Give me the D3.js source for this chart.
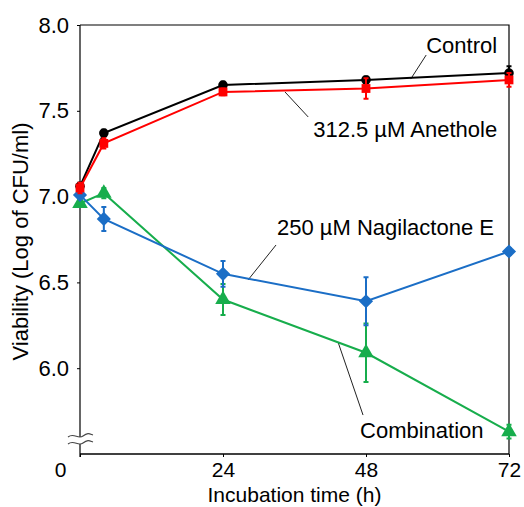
<!DOCTYPE html>
<html>
<head>
<meta charset="utf-8">
<script src="https://d3js.org/d3.v7.min.js"></script>
<style>
	body { margin: 0; background: #fff; }
	text { font-family: "Liberation Sans", Arial, sans-serif; }
</style>
</head>
<body>
<svg id="chart"></svg>
<script>
/*
 *  Viability time course, log CFU/ml
 */

const W = 524, H = 507, FONT_SIZE = 22, TICK_FONT = 21;
const margin = { left: 80, right: 15, top: 25, bottom: 53 };

// data
const times = [0, 4, 24, 48, 72];
const controlVals = [7.06, 7.37, 7.65, 7.68, 7.72];
const controlErr = [0.02, 0.02, 0.02, 0.02, 0.04];
const anetholeVals = [7.05, 7.31, 7.61, 7.63, 7.68];
const anetholeErr = [0.03, 0.03, 0.02, 0.06, 0.04];
const nagilactoneVals = [7.01, 6.87, 6.55, 6.39, 6.68];
const nagilactoneErr = [0.02, 0.07, 0.075, 0.14, 0.02];
const combinationVals = [6.96, 7.02, 6.40, 6.09, 5.63];
const combinationErr = [0.02, 0.03, 0.09, 0.17, 0.04];

const xTicks = [0, 24, 48, 72];
const yTicks = [6.0, 6.5, 7.0, 7.5, 8.0];

// drawn back to front
const series = [
	{ name: 'Combination', vals: combinationVals, err: combinationErr, color: '#17ad4c', sym: d3.symbolTriangle, size: 105, rot: 0 },
	{ name: '250 µM Nagilactone E', vals: nagilactoneVals, err: nagilactoneErr, color: '#1b6ec6', sym: d3.symbolSquare, size: 100, rot: 45 },
	{ name: 'Control', vals: controlVals, err: controlErr, color: '#000000', sym: d3.symbolCircle, size: 72, rot: 0 },
	{ name: '312.5 µM Anethole', vals: anetholeVals, err: anetholeErr, color: '#ff0000', sym: d3.symbolSquare, size: 78, rot: 0 },
];

// label leader lines: point on curve -> leader end, text offset from leader end
const notes = [
	{ text: 'Control', from: [55.5, 7.685], to: [58.1, 7.825], dx: 0, dy: -2 },
	{ text: '312.5 µM Anethole', from: [34.4, 7.61], to: [38.3, 7.464], dx: 5, dy: 20 },
	{ text: '250 µM Nagilactone E', from: [28.2, 6.514], to: [32.9, 6.718], dx: 1, dy: -10 },
	{ text: 'Combination', from: [43.3, 6.153], to: [47.5, 5.727], dx: -3, dy: 23 },
];

const svg = d3.select('svg#chart').attr('width', W).attr('height', H);

const x = d3.scaleLinear().domain([0, 72]).range([margin.left, W - margin.right]);
const y = d3.scaleLinear().domain([5.5, 8.0]).range([H - margin.bottom, margin.top]);

const x0 = x.range()[0], x1 = x.range()[1], y0 = y.range()[0], y1 = y.range()[1];

// frame (top & right)
svg.append('path')
	.attr('d', `M${x0},${y1}H${x1}V${y0}`)
	.attr('fill', 'none').attr('stroke', '#000').attr('stroke-width', 1.2);

// x axis
const xAxis = svg.append('g')
	.attr('transform', `translate(0,${y0})`)
	.call(d3.axisBottom(x).tickValues(xTicks).tickFormat(d3.format('d')).tickSize(3).tickPadding(5));
xAxis.select('.domain').attr('stroke-width', 1.4).attr('d', `M${x0},0H${x1}`);
xAxis.selectAll('text').attr('font-size', TICK_FONT + 'px').attr('fill', '#000')
	.attr('dx', d => d === 0 ? -20 : 0);

// y axis (with break near the bottom)
const breakY = y0 - 14;
const yAxis = svg.append('g')
	.attr('transform', `translate(${x0},0)`)
	.call(d3.axisLeft(y).tickValues(yTicks).tickFormat(d3.format('.1f')).tickSize(3).tickPadding(8));
yAxis.select('.domain').attr('stroke-width', 1.2)
	.attr('d', `M0,${y1}V${breakY - 3}M0,${breakY + 4}V${y0 + 3}`);
yAxis.selectAll('text').attr('font-size', FONT_SIZE + 'px').attr('fill', '#000');

// break squiggles
[breakY - 4, breakY + 3].forEach(by => {
	svg.append('path')
		.attr('d', `M${x0 - 12},${by + 1}C${x0 - 6},${by - 4} ${x0 - 2},${by + 4} ${x0 + 3},${by}S${x0 + 10},${by - 2} ${x0 + 13},${by - 1}`)
		.attr('fill', 'none').attr('stroke', '#444').attr('stroke-width', 1.1);
});

// axis titles
svg.append('text')
	.attr('x', (x0 + x1) / 2).attr('y', 502)
	.attr('text-anchor', 'middle').attr('font-size', TICK_FONT + 'px')
	.text('Incubation time (h)');
svg.append('text')
	.attr('transform', `translate(28,${(y0 + y1) / 2 + 2}) rotate(-90)`)
	.attr('text-anchor', 'middle').attr('font-size', FONT_SIZE + 'px')
	.text('Viability (Log of CFU/ml)');

// leader lines and labels
const noteLayer = svg.append('g');
notes.forEach(n => {
	noteLayer.append('line')
		.attr('x1', x(n.from[0])).attr('y1', y(n.from[1]))
		.attr('x2', x(n.to[0])).attr('y2', y(n.to[1]))
		.attr('stroke', '#222').attr('stroke-width', 1);
	noteLayer.append('text')
		.attr('x', x(n.to[0]) + n.dx).attr('y', y(n.to[1]) + n.dy)
		.attr('font-size', FONT_SIZE + 'px')
		.text(n.text);
});

// series
const line = d3.line().x(d => x(d.t)).y(d => y(d.v));
series.forEach(s => {
	const pts = times.map((t, i) => ({ t, v: s.vals[i], e: s.err[i] }));
	const g = svg.append('g');
	g.append('path').datum(pts)
		.attr('d', line).attr('fill', 'none')
		.attr('stroke', s.color).attr('stroke-width', 2);
	g.selectAll('path.err').data(pts).enter().append('path')
		.attr('class', 'err')
		.attr('d', d => `M${x(d.t)},${y(d.v - d.e)}V${y(d.v + d.e)}M${x(d.t) - 2.5},${y(d.v - d.e)}h5M${x(d.t) - 2.5},${y(d.v + d.e)}h5`)
		.attr('fill', 'none').attr('stroke', s.color).attr('stroke-width', 2);
	g.selectAll('path.mk').data(pts).enter().append('path')
		.attr('class', 'mk')
		.attr('transform', d => `translate(${x(d.t)},${y(d.v)}) rotate(${s.rot})`)
		.attr('d', d3.symbol().type(s.sym).size(s.size))
		.attr('fill', s.color);
});
</script>
</body>
</html>
